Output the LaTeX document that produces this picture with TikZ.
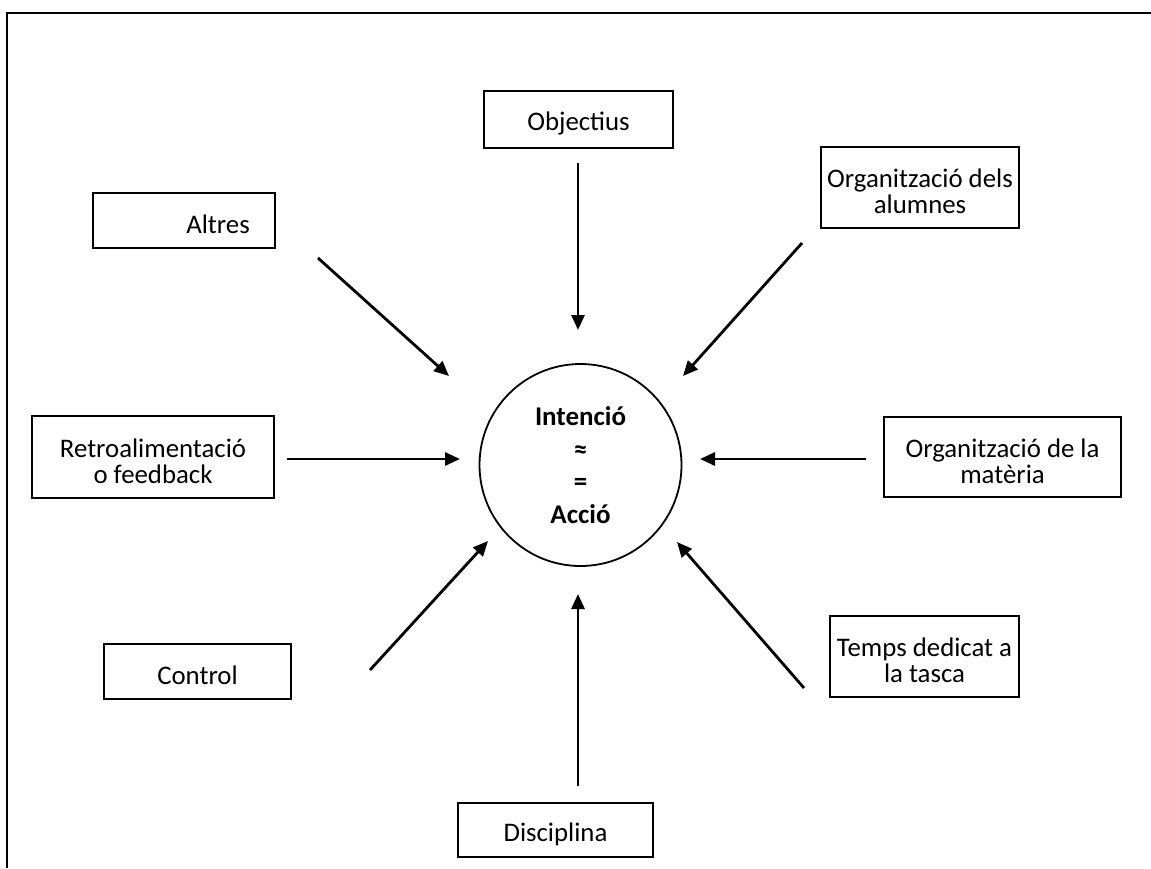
\documentclass[tikz,border=0pt]{standalone}
\usepackage{fontspec}
\setmainfont{Carlito}
\usetikzlibrary{arrows.meta}
% centred lines set a little below the middle of their box
\newcommand\boxlines[1]{\raisebox{-2pt}[\height][\depth]{\vtop{\halign{\hfil##\hfil\cr#1\crcr}}}}
\begin{document}
\begin{tikzpicture}[x=0.5pt,y=-0.5pt,
  frameline/.style={line width=1pt},
  labelbox/.style={draw,line width=0.8pt,inner sep=0pt,
    font=\fontsize{13.4}{13}\selectfont},
  hub/.style={draw,circle,line width=0.9pt,inner sep=0pt,minimum size=101pt,
    align=center,font=\bfseries\fontsize{13.5}{16.3}\selectfont},
  arr/.style={line width=1.4pt,-{Triangle[length=7.5pt,width=6.5pt]}}]
\useasboundingbox (0,0) rectangle (1151,868);

% open frame on the left and top
\draw[frameline] (7,868) -- (7,12.5) -- (1151,12.5);

% central circle
\node[hub] (c) at (580.5,465) {Intenció\\≈\\=\\Acció};

% surrounding boxes
\node[labelbox,minimum width=94.5pt,minimum height=28.5pt] (obj) at (578.5,119.5) {\boxlines{Objectius}};
\node[labelbox,minimum width=99pt,minimum height=40.5pt] (alu) at (920,187.5) {\boxlines{Organització dels\cr alumnes}};
\node[labelbox,minimum width=91pt,minimum height=27.5pt] (alt) at (184,220.5) {\boxlines{\hspace*{34pt}Altres}};
\node[labelbox,minimum width=121pt,minimum height=41pt] (ret) at (153,457) {\boxlines{Retroalimentació\cr o feedback}};
\node[labelbox,minimum width=118.5pt,minimum height=40pt] (mat) at (1002.5,457) {\boxlines{Organització de la\cr matèria}};
\node[labelbox,minimum width=93.5pt,minimum height=27.5pt] (con) at (197.5,671.5) {\boxlines{Control}};
\node[labelbox,minimum width=94.5pt,minimum height=40.5pt] (tem) at (924.5,656.5) {\boxlines{Temps dedicat a\cr la tasca}};
\node[labelbox,minimum width=97.5pt,minimum height=27pt] (dis) at (555.5,830) {\boxlines{Disciplina}};

% arrow end points
\coordinate (obj-s) at (578,163);   \coordinate (obj-t) at (578,330);
\coordinate (alt-s) at (318,258);   \coordinate (alt-t) at (449,376);
\coordinate (alu-s) at (802,243);   \coordinate (alu-t) at (683,376);
\coordinate (ret-s) at (287,459);   \coordinate (ret-t) at (460,459);
\coordinate (mat-s) at (866,459);   \coordinate (mat-t) at (700,459);
\coordinate (con-s) at (370,670);   \coordinate (con-t) at (488,541);
\coordinate (tem-s) at (804,688);   \coordinate (tem-t) at (677,542);
\coordinate (dis-s) at (578,786);   \coordinate (dis-t) at (578,594);

% arrows pointing at the circle
\foreach \k in {obj,alt,alu,ret,mat,con,tem,dis}
  \draw[arr] (\k-s) -- (\k-t);
\end{tikzpicture}
\end{document}
